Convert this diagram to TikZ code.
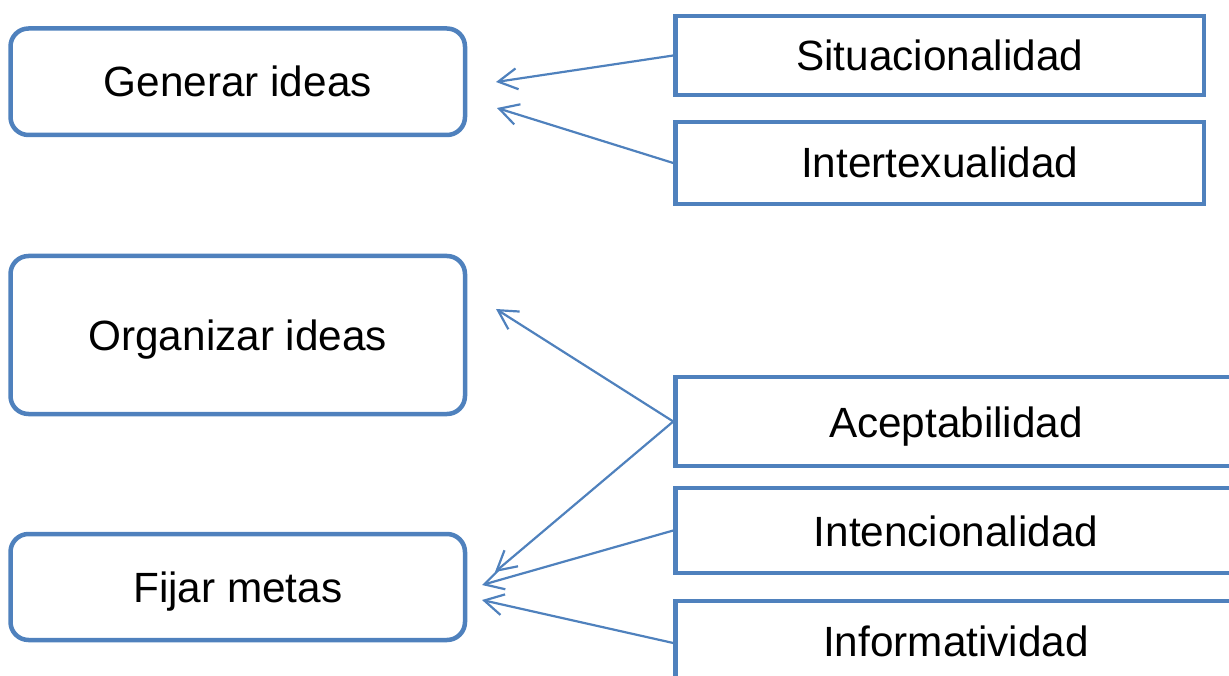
\documentclass[tikz,border=0pt]{standalone}
\usepackage{fontspec}
\setmainfont{Liberation Sans}
\usetikzlibrary{arrows.meta}
\definecolor{accent}{HTML}{4F81BD}
\begin{document}
\begin{tikzpicture}[x=1pt,y=-1pt,
  roundbox/.style={draw=accent, line width=4.5pt, rounded corners=18pt, inner sep=0pt},
  flatbox/.style={draw=accent, line width=4.5pt, inner sep=0pt, line join=miter},
  caption/.style={font=\fontsize{42.3}{50}\selectfont, text=black, text height=30pt, text depth=0pt, inner sep=0pt},
  link/.style={draw=accent, line width=2.2pt, -{Straight Barb[length=19pt,width=21pt]}}]
\useasboundingbox (0,0) rectangle (1229,676);

% process steps (left column)
\node[roundbox, caption, minimum width=454.5pt, minimum height=106.5pt] (gen) at (237.75,81.75) {Generar ideas};
\node[roundbox, caption, minimum width=454.5pt, minimum height=158pt] (org) at (237.75,335) {Organizar ideas};
\node[roundbox, caption, minimum width=454.5pt, minimum height=106pt] (fij) at (237.75,587) {Fijar metas};

% textuality criteria (right column)
\node[flatbox, caption, minimum width=528.5pt, minimum height=79pt] (sit) at (939.75,55.5) {Situacionalidad};
\node[flatbox, caption, minimum width=528.5pt, minimum height=82pt] (int) at (939.75,163) {Intertexualidad};

\node[flatbox, minimum width=600pt, minimum height=89pt] (acp) at (975.5,421.5) {};
\node[caption] (acp-t) at (956,422) {Aceptabilidad};
\node[flatbox, minimum width=600pt, minimum height=85pt] (inc) at (975.5,530.5) {};
\node[caption] (inc-t) at (956,531) {Intencionalidad};
\node[flatbox, minimum width=600pt, minimum height=84pt] (inf) at (975.5,643) {};
\node[caption] (inf-t) at (956,641) {Informatividad};

% arrow targets beside the step boxes
\coordinate (gen-a) at (496,82);
\coordinate (gen-b) at (497,108);
\coordinate (org-a) at (496,309);
\coordinate (fij-a) at (495,572);
\coordinate (fij-b) at (482,585);
\coordinate (fij-c) at (482,600);

\draw[link] (sit.west) -- (gen-a);
\draw[link] (int.west) -- (gen-b);
\draw[link] (acp.west) -- (org-a);
\draw[link] (acp.west) -- (fij-a);
\draw[link] (inc.west) -- (fij-b);
\draw[link] (inf.west) -- (fij-c);
\end{tikzpicture}
\end{document}
